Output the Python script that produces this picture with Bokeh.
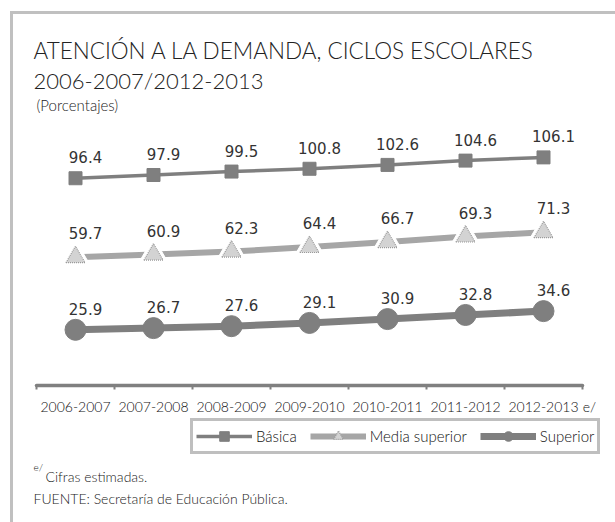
from bokeh.plotting import figure
from bokeh.layouts import column
from bokeh.models import (ColumnDataSource, Range1d, FixedTicker, Label, Legend,
                          LegendItem, LinearAxis)
from bokeh.core.properties import value
from bokeh.embed import file_html
from bokeh.resources import INLINE

# ---- data ----
ciclos = ["2006-2007", "2007-2008", "2008-2009", "2009-2010",
          "2010-2011", "2011-2012", "2012-2013"]
basica = [96.4, 97.9, 99.5, 100.8, 102.6, 104.6, 106.1]
media_superior = [59.7, 60.9, 62.3, 64.4, 66.7, 69.3, 71.3]
superior = [25.9, 26.7, 27.6, 29.1, 30.9, 32.8, 34.6]
series_names = ["Básica", "Media superior", "Superior"]

xs = [i + 0.5 for i in range(len(ciclos))]
n = len(ciclos)

src = ColumnDataSource(dict(
    x=xs,
    basica=basica, media=media_superior, superior=superior,
    basica_t=[f"{v:.1f}" for v in basica],
    media_t=[f"{v:.1f}" for v in media_superior],
    superior_t=[f"{v:.1f}" for v in superior],
))

LIGHT = "'Lato Light', Lato"
LBL = "DejaVu Sans"
INK = "#222222"

W, H = 615, 522
FRAME_H = 385           # main frame height (axis line at its bottom)
AXIS_H = 32             # room for the category labels
PX_PER_CAT = 78
LEFT_PAD = 36

STY = dict(
    basica=dict(line_color="#7f7f7f", line_width=3.5),
    basica_m=dict(marker="square", size=13, fill_color="#7f7f7f", line_color="#7f7f7f"),
    media=dict(line_color="#a6a6a6", line_width=6),
    media_m=dict(marker="triangle", size=19, fill_color="#d3d3d3",
                 line_color="#9a9a9a", line_width=1.2, line_dash="1 1"),
    superior=dict(line_color="#7f7f7f", line_width=7),
    superior_m=dict(marker="circle", size=21, fill_color="#7f7f7f", line_color="#7f7f7f"),
)

xr = Range1d(-LEFT_PAD / PX_PER_CAT, (W - LEFT_PAD) / PX_PER_CAT)

p = figure(width=W, height=FRAME_H + AXIS_H, output_backend="svg",
           toolbar_location=None, x_range=xr, y_range=Range1d(0, FRAME_H / 2.15),
           y_axis_location=None, title="",
           min_border_left=0, min_border_right=0,
           min_border_top=0, min_border_bottom=AXIS_H)
p.title.visible = False
p.outline_line_color = None
p.xgrid.visible = False
p.ygrid.visible = False
p.background_fill_color = None
p.border_fill_color = None

# axis line + boundary ticks
ax = p.xaxis[0]
ax.bounds = (0, n)
ax.ticker = FixedTicker(ticks=[], minor_ticks=list(range(n + 1)))
ax.axis_line_color = "#808080"
ax.axis_line_width = 3.5
ax.axis_line_cap = "round"
ax.major_tick_line_color = None
ax.major_tick_in = 0
ax.major_tick_out = 0
ax.minor_tick_line_color = "#808080"
ax.minor_tick_line_width = 2
ax.minor_tick_in = 0
ax.minor_tick_out = 4
ax.major_label_standoff = 0

# category labels (+ "e/" mark after the last one)
E_POS = n + 0.09
lab_ticks = xs + [E_POS]
overrides = {x: c for x, c in zip(xs, ciclos)}
overrides[E_POS] = "e/"
ax_lab = LinearAxis(ticker=FixedTicker(ticks=lab_ticks),
                    major_label_overrides=overrides,
                    axis_line_color=None, major_tick_line_color=None,
                    minor_tick_line_color=None, major_tick_in=0, major_tick_out=0,
                    minor_tick_in=0, minor_tick_out=0,
                    major_label_standoff=8,
                    major_label_text_font=LIGHT, major_label_text_font_size="14px",
                    major_label_text_color="#111111")
p.add_layout(ax_lab, "below")

# ---- series ----
p.line("x", "basica", source=src, **STY["basica"])
p.scatter("x", "basica", source=src, **STY["basica_m"])

p.line("x", "media", source=src, **STY["media"])
p.scatter("x", "media", source=src, marker="triangle", size=30,
          fill_color="white", line_color="white")
p.scatter("x", "media", source=src, **STY["media_m"])

p.line("x", "superior", source=src, **STY["superior"])
p.scatter("x", "superior", source=src, **STY["superior_m"])

for col, dy in (("basica", -21), ("media", -24), ("superior", -21)):
    p.text(x="x", y=col, text=col + "_t", source=src, x_offset=10, y_offset=dy,
           text_font=value(LBL), text_font_size="15px", text_color="#333333",
           text_align="center", text_baseline="middle")


def add_label(fig, x, y, text, size, font=LIGHT):
    fig.add_layout(Label(x=x, y=y, x_units="screen", y_units="screen", text=text,
                         text_font=font, text_font_size=size, text_color=INK,
                         text_baseline="middle", text_align="left"))

# heading (screen units from the frame's bottom-left corner)
add_label(p, 33, 335, "ATENCIÓN A LA DEMANDA, CICLOS ESCOLARES", "22.5px")
add_label(p, 33, 305, "2006-2007/2012-2013", "22px")
add_label(p, 36, 281, "(Porcentajes)", "15px")

# ---- lower panel: legend and footnotes ----
FOOT_H = H - FRAME_H - AXIS_H
q = figure(width=W, height=FOOT_H, output_backend="svg", toolbar_location=None,
           x_range=Range1d(0, 1), y_range=Range1d(0, 1),
           x_axis_location=None, y_axis_location=None, title="",
           min_border_left=0, min_border_right=0,
           min_border_top=0, min_border_bottom=0)
q.title.visible = False
q.outline_line_color = None
q.xgrid.visible = False
q.ygrid.visible = False
q.background_fill_color = None
q.border_fill_color = None

# legend swatches: same series, drawn off this panel's visible ranges
items = []
for name, key in zip(series_names, ("basica", "media", "superior")):
    r_line = q.line("x", key, source=src, **STY[key])
    r_mark = q.scatter("x", key, source=src, **STY[key + "_m"])
    items.append(LegendItem(label=name, renderers=[r_line, r_mark]))

legend = Legend(items=items, orientation="horizontal",
                location=(190, 68),
                glyph_width=56, glyph_height=24, label_height=16,
                label_standoff=4, spacing=13, padding=3, margin=0,
                label_text_font=LIGHT, label_text_font_size="15px",
                label_text_color="#111111",
                border_line_color="#808080", border_line_width=3,
                background_fill_alpha=1)
q.add_layout(legend, "center")

add_label(q, 33, 56, "e/", "10px")
add_label(q, 45, 46, "Cifras estimadas.", "14px")
add_label(q, 33, 24, "FUENTE: Secretaría de Educación Pública.", "14px")

page = column(p, q, spacing=0)
page.styles = {
    "background-color": "white",
    "background-image": "linear-gradient(#c0c0c0, #c0c0c0), linear-gradient(#c0c0c0, #c0c0c0)",
    "background-size": "3px 100%, 100% 3px",
    "background-position": "10px 11px, 10px 11px",
    "background-repeat": "no-repeat",
}

open("out.html", "w").write(file_html(page, INLINE))
